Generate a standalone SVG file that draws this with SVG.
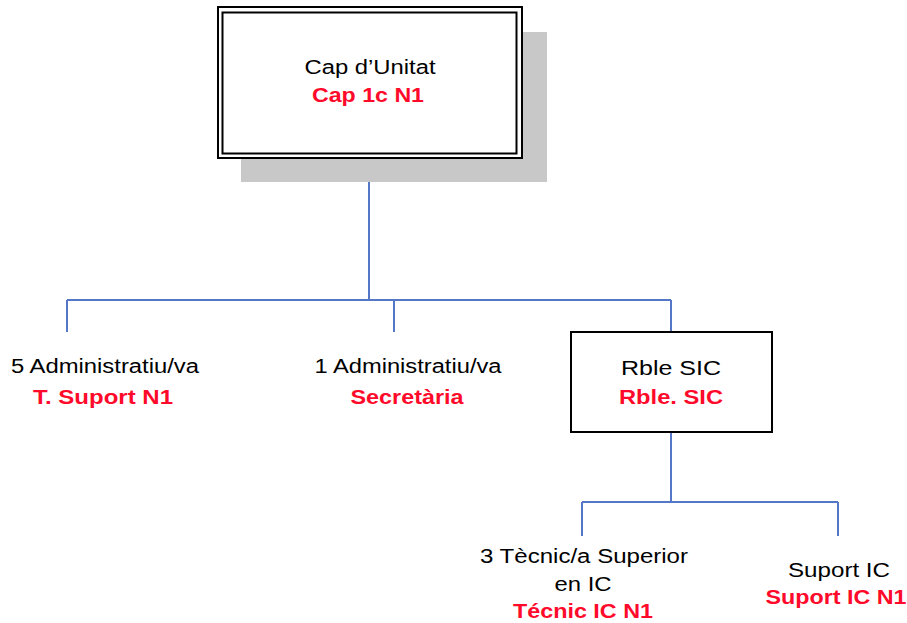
<svg xmlns="http://www.w3.org/2000/svg" width="907" height="623" viewBox="0 0 907 623">
<style>
.t{font-family:"Liberation Sans",Arial,sans-serif;font-size:20px;fill:#000;text-anchor:middle}
.r{font-family:"Liberation Sans",Arial,sans-serif;font-size:20px;font-weight:bold;fill:#ff0a2a;text-anchor:middle}
.c{fill:none;stroke:#5577c8;stroke-width:2}
.b{fill:#fff;stroke:#000;stroke-width:2}
</style>
<rect width="907" height="623" fill="#fff"/>
<g id="connectors">
<path class="c" d="M369 158V300M67 300H671M67 300V332M394 300V332M671 300V332"/>
<path class="c" d="M671 432V502M582 502H838M582 502V536M838 502V536"/>
</g>
<g id="cap-unitat">
<rect x="241" y="32" width="306" height="150" fill="#c8c8c8"/>
<rect x="218" y="7" width="304" height="151" class="b"/>
<rect x="222.5" y="12.5" width="294" height="141" fill="none" stroke="#000" stroke-width="2"/>
<text class="t" x="370" y="74" textLength="131" lengthAdjust="spacingAndGlyphs">Cap d’Unitat</text>
<text class="r" x="368" y="102" textLength="112" lengthAdjust="spacingAndGlyphs">Cap 1c N1</text>
</g>
<g id="admin5">
<text class="t" x="105" y="373" textLength="188" lengthAdjust="spacingAndGlyphs">5 Administratiu/va</text>
<text class="r" x="103" y="404" textLength="140" lengthAdjust="spacingAndGlyphs">T. Suport N1</text>
</g>
<g id="admin1">
<text class="t" x="408" y="373" textLength="187" lengthAdjust="spacingAndGlyphs">1 Administratiu/va</text>
<text class="r" x="407" y="404" textLength="113" lengthAdjust="spacingAndGlyphs">Secretària</text>
</g>
<g id="rble-sic">
<rect x="571" y="332" width="201" height="100" class="b"/>
<text class="t" x="671" y="375" textLength="100" lengthAdjust="spacingAndGlyphs">Rble SIC</text>
<text class="r" x="671" y="404" textLength="104" lengthAdjust="spacingAndGlyphs">Rble. SIC</text>
</g>
<g id="tecnic">
<text class="t" x="584" y="563" textLength="208" lengthAdjust="spacingAndGlyphs">3 Tècnic/a Superior</text>
<text class="t" x="583" y="591" textLength="57" lengthAdjust="spacingAndGlyphs">en IC</text>
<text class="r" x="583" y="618" textLength="140" lengthAdjust="spacingAndGlyphs">Técnic IC N1</text>
</g>
<g id="suport">
<text class="t" x="839" y="577" textLength="102" lengthAdjust="spacingAndGlyphs">Suport IC</text>
<text class="r" x="836" y="604" textLength="141" lengthAdjust="spacingAndGlyphs">Suport IC N1</text>
</g>
</svg>
